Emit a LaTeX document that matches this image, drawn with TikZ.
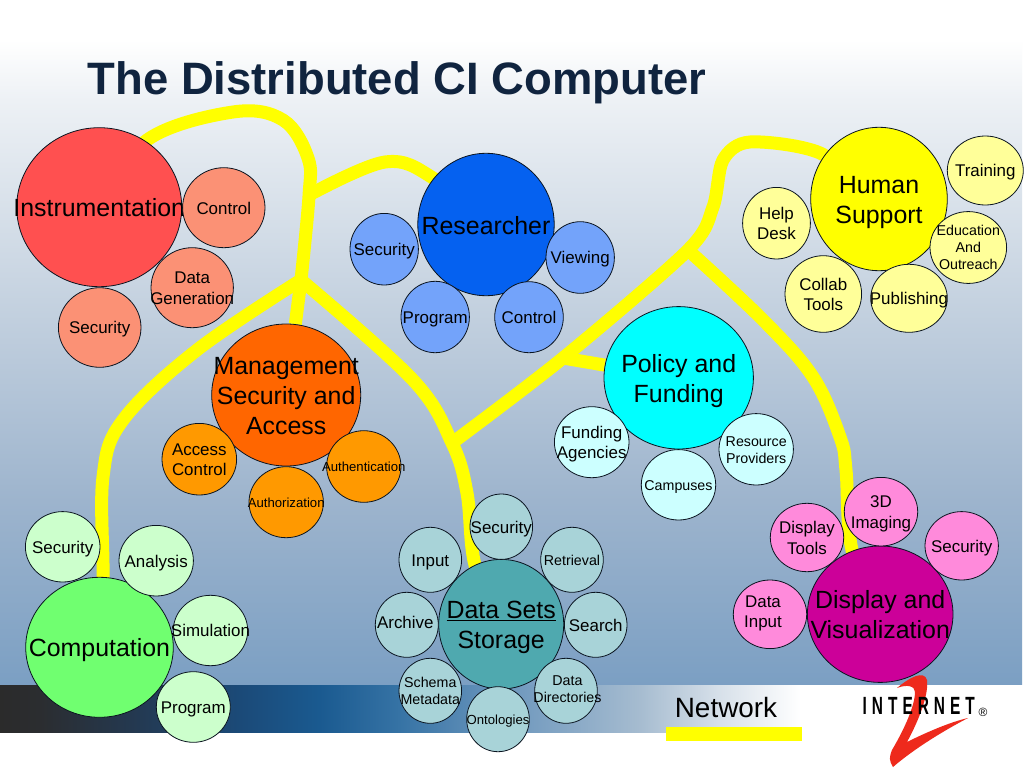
\documentclass[tikz,border=0pt]{standalone}
\usepackage{fontspec}
\setmainfont{Liberation Sans}
\newfontfamily\logofont[FakeStretch=0.62,LetterSpace=20]{Liberation Sans}
\usetikzlibrary{shapes.geometric}
\pgfdeclarelayer{back}\pgfdeclarelayer{links}
\pgfsetlayers{back,links,main}
\definecolor{bgA}{HTML}{7B9FC3}\definecolor{bgB}{HTML}{9DB4CD}\definecolor{bgC}{HTML}{C5D2E0}\definecolor{bgD}{HTML}{EDF1F5}
\pgfdeclareverticalshading{bgshade}{100bp}{color(0bp)=(bgA); color(25bp)=(bgA); color(38.5bp)=(bgB); color(53.1bp)=(bgC); color(67.7bp)=(bgD); color(72.1bp)=(white); color(100bp)=(white)}
\definecolor{bnA}{HTML}{2B2B2B}\definecolor{bnB}{HTML}{2B2D30}\definecolor{bnC}{HTML}{24384F}\definecolor{bnD}{HTML}{1B4A78}\definecolor{bnE}{HTML}{1A5A90}\definecolor{bnF}{HTML}{3673A5}\definecolor{bnG}{HTML}{6A95BC}\definecolor{bnH}{HTML}{A6BCD0}\definecolor{bnI}{HTML}{D8E1EA}
\pgfdeclarehorizontalshading{bandshade}{100bp}{color(0bp)=(bnA); color(25bp)=(bnA); color(26.95bp)=(bnB); color(31.35bp)=(bnC); color(36.7bp)=(bnD); color(40.6bp)=(bnE); color(44.5bp)=(bnF); color(49.4bp)=(bnG); color(56.25bp)=(bnH); color(60.2bp)=(bnI); color(64.1bp)=(white); color(100bp)=(white)}
\newcommand\T[1]{\makebox[0pt][c]{\raisebox{-0.14em}[\height][\depth]{\begin{tabular}{@{}c@{}}#1\end{tabular}}}}
\newcommand\TS[3]{\makebox[0pt][c]{\kern#1\raisebox{\dimexpr-0.14em+#2\relax}[\height][\depth]{\begin{tabular}{@{}c@{}}#3\end{tabular}}}}
\definecolor{linkY}{HTML}{FFFF00}
\definecolor{titleC}{HTML}{10243F}
\definecolor{rim}{HTML}{0A1420}
\definecolor{cInstr}{HTML}{FF5050}\definecolor{cInstrS}{HTML}{FB9175}
\definecolor{cRes}{HTML}{0561F0}\definecolor{cResS}{HTML}{73A3FA}
\definecolor{cMgmt}{HTML}{FF6600}\definecolor{cMgmtS}{HTML}{FF9900}
\definecolor{cPol}{HTML}{00FFFF}\definecolor{cPolS}{HTML}{CCFFFF}
\definecolor{cHum}{HTML}{FFFF00}\definecolor{cHumS}{HTML}{FFFF99}
\definecolor{cComp}{HTML}{70FF70}\definecolor{cCompS}{HTML}{CCFFCC}
\definecolor{cData}{HTML}{4FA9AF}\definecolor{cDataS}{HTML}{A8D3D8}
\definecolor{cDisp}{HTML}{CC0099}\definecolor{cDispS}{HTML}{FF8ADB}
\definecolor{logoR}{HTML}{EE2A1C}
\tikzset{
  bub/.style={ellipse,draw=rim,line width=0.8bp,inner sep=0pt,text=black},
  fbig/.style={font=\fontsize{25}{30.5}\selectfont},
  fmid/.style={font=\fontsize{17}{20.5}\selectfont},
  fsma/.style={font=\fontsize{14.3}{17}\selectfont},
  ftin/.style={font=\fontsize{13.2}{16}\selectfont},
  link/.style={draw=linkY,line width=13bp},
  rad/.style n args={2}{minimum width=#1*2bp,minimum height=#2*2bp}
}
\begin{document}
\begin{tikzpicture}[x=1bp,y=-1bp]
\useasboundingbox (0,0) rectangle (1024,768);
% hubs first, satellites over them
\node[bub,fbig,fill=cInstr,rad={82.5}{79.5}] (instr) at (99.2,207.2) {\T{Instrumentation}};
\node[bub,fmid,fill=cInstrS,rad={41.2}{40}] (ictl) at (223.8,207.7) {\T{Control}};
\node[bub,fmid,fill=cInstrS,rad={41.2}{40}] (igen) at (192.2,287.7) {\T{Data\\Generation}};
\node[bub,fmid,fill=cInstrS,rad={41.3}{39.8}] (isec) at (99.7,327.5) {\T{Security}};
\node[bub,fbig,fill=cRes,rad={68.2}{71.2}] (res) at (486,224.5) {\T{Researcher}};
\node[bub,fmid,fill=cResS,rad={34.2}{35.8}] (rsec) at (384.2,249.2) {\T{Security}};
\node[bub,fmid,fill=cResS,rad={34.2}{35.8}] (rview) at (580.2,257.5) {\T{Viewing}};
\node[bub,fmid,fill=cResS,rad={34.2}{35.7}] (rprog) at (435.2,317) {\T{Program}};
\node[bub,fmid,fill=cResS,rad={34.3}{35.5}] (rctl) at (529,317.2) {\T{Control}};
\node[bub,fbig,fill=cMgmt,rad={74.5}{71}] (mgmt) at (286.2,395) {\T{Management\\Security and\\Access}};
\node[bub,fmid,fill=cMgmtS,rad={37.3}{35.8}] (macc) at (199.3,459.2) {\T{Access\\Control}};
\node[bub,ftin,fill=cMgmtS,rad={37.2}{35.8}] (mauth) at (363.8,466.5) {\T{Authentication}};
\node[bub,ftin,fill=cMgmtS,rad={37.2}{35.5}] (mautz) at (286.2,502.2) {\T{Authorization}};
\node[bub,fbig,fill=cPol,rad={74.7}{71.2}] (pol) at (678.7,377.8) {\T{Policy and\\Funding}};
\node[bub,fmid,fill=cPolS,rad={37.3}{35.5}] (pfund) at (591.7,442.2) {\T{Funding\\Agencies}};
\node[bub,fsma,fill=cPolS,rad={37.2}{35.2}] (pcamp) at (678.5,484.8) {\T{Campuses}};
\node[bub,fsma,fill=cPolS,rad={37.2}{35.7}] (pres) at (756.2,449.3) {\T{Resource\\Providers}};
\node[bub,fbig,fill=cHum,rad={68.3}{71.7}] (hum) at (879,199) {\T{Human\\Support}};
\node[bub,fmid,fill=cHumS,rad={38}{34.5}] (htrain) at (985.3,170.5) {\T{Training}};
\node[bub,fmid,fill=cHumS,rad={33.9}{35.8}] (hhelp) at (776.5,223.2) {\T{Help\\Desk}};
\node[bub,fsma,fill=cHumS,rad={38.3}{34.2}] (hedu) at (968.3,247.5) {\T{Education\\And\\Outreach}};
\node[bub,fmid,fill=cHumS,rad={38.3}{38.3}] (hcol) at (823.3,294) {\T{Collab\\Tools}};
\node[bub,fmid,fill=cHumS,rad={38.3}{34}] (hpub) at (909,298.3) {\T{Publishing}};
\node[bub,fbig,fill=cComp,rad={73.8}{70}] (comp) at (99.5,647.3) {\T{Computation}};
\node[bub,fmid,fill=cCompS,rad={37.3}{35.2}] (csec) at (62.7,546.8) {\T{Security}};
\node[bub,fmid,fill=cCompS,rad={37.2}{35.3}] (cana) at (156.2,560.7) {\T{Analysis}};
\node[bub,fmid,fill=cCompS,rad={37.2}{35.2}] (csim) at (210.5,630.5) {\T{Simulation}};
\node[bub,fmid,fill=cCompS,rad={37}{35.3}] (cprog) at (193.3,707) {\T{Program}};
\node[bub,fbig,fill=cData,rad={62.5}{64.8}] (data) at (501.2,624.2) {\T{\underline{Data Sets}\\Storage}};
\node[bub,fmid,fill=cDataS,rad={31.3}{32.7}] (dsec) at (501.3,526.7) {\T{Security}};
\node[bub,fmid,fill=cDataS,rad={31.3}{32.5}] (dinp) at (430.3,559.8) {\T{Input}};
\node[bub,fsma,fill=cDataS,rad={31.3}{32.5}] (dret) at (572,559.8) {\T{Retrieval}};
\node[bub,fmid,fill=cDataS,rad={31.5}{32.5}] (darc) at (406.8,624.8) {\TS{-3bp}{3bp}{Archive}};
\node[bub,fmid,fill=cDataS,rad={31.3}{32.5}] (dsea) at (595.7,624.8) {\T{Search}};
\node[bub,fsma,fill=cDataS,rad={31.3}{32.5}] (dsch) at (430.3,690.8) {\T{Schema\\Metadata}};
\node[bub,fsma,fill=cDataS,rad={31.3}{32.5}] (ddir) at (566,690.8) {\TS{3bp}{2bp}{Data\\Directories}};
\node[bub,ftin,fill=cDataS,rad={31.3}{32.5}] (dont) at (498,719.2) {\T{Ontologies}};
\node[bub,fbig,fill=cDisp,rad={72.8}{68.2}] (disp) at (880.2,614.2) {\T{Display and\\Visualization}};
\node[bub,fmid,fill=cDispS,rad={36.7}{34.2}] (vtool) at (807,537.5) {\T{Display\\Tools}};
\node[bub,fmid,fill=cDispS,rad={36.7}{34.3}] (vimg) at (881,511.7) {\T{3D\\Imaging}};
\node[bub,fmid,fill=cDispS,rad={36.7}{34.2}] (vsec) at (961.7,545.8) {\T{Security}};
\node[bub,fmid,fill=cDispS,rad={36.7}{34.3}] (vinp) at (770,614.3) {\TS{-14bp}{3bp}{Data\\Input}};
\node[font=\bfseries\fontsize{45.6}{50}\selectfont,text=titleC,inner sep=0pt] (title) at (397,82.5) {The Distributed CI Computer};
\coordinate (jTop) at (301,280);
\coordinate (jRes) at (309,195);
\coordinate (jDS) at (452,443);
\coordinate (jPol) at (563,358);
\coordinate (jDisp) at (688,250);
\begin{pgfonlayer}{back}
\fill[white] (0,0) rectangle (1024,768);
\shade[shading=bgshade] (0,0) rectangle (1022,686);
\shade[shading=bandshade] (0,685) rectangle (1024,732.5);
\end{pgfonlayer}
\begin{pgfonlayer}{links}
\draw[link] plot[smooth,tension=0.6] coordinates {(instr) (147,140) (233,112) (283,120) (308,158) (309,196) (jTop)};
\draw[link] plot[smooth,tension=0.6] coordinates {(jRes) (385,162) (433,178) (res)};
\draw[link] plot[smooth,tension=0.6] coordinates {(jTop) (197,350) (123,420) (103,477) (103,577) (comp)};
\draw[link] plot[smooth,tension=0.6] coordinates {(jTop) (413,380) (jDS) (467,493) (475,565) (data)};
\draw[link] (jTop) -- (mgmt);
\draw[link] plot[smooth,tension=0.5] coordinates {(jDS) (jPol) (jDisp) (713,207) (723,160) (750,142) (820,153) (hum)};
\draw[link] (jPol) -- (pol);
\draw[link] plot[smooth,tension=0.6] coordinates {(jDisp) (763,320) (813,377) (840,437) (846,470) (852,550) (disp)};
\end{pgfonlayer}
\node[font=\fontsize{28}{32}\selectfont,inner sep=0pt] (net) at (726,708) {Network};
\fill[linkY] (666,727) rectangle (802,741);
\fill[logoR] (897,688) .. controls (910,677) and (924,670) .. (927,680)
  .. controls (929,695) and (918,722) .. (907,742) .. controls (925,733) and (950,722) .. (968,718)
  .. controls (945,730) and (915,748) .. (893,767) .. controls (889,760) and (889,758) .. (892,750)
  .. controls (905,728) and (915,705) .. (915,692) .. controls (915,686) and (907,684) .. (897,688) -- cycle;
\node[font=\logofont\bfseries\fontsize{25}{28}\selectfont,inner sep=0pt,anchor=west] (inet) at (862.5,706) {INTERNET};
\node[font=\fontsize{12}{13}\selectfont,inner sep=0pt] (reg) at (983,712) {®};
\end{tikzpicture}
\end{document}
